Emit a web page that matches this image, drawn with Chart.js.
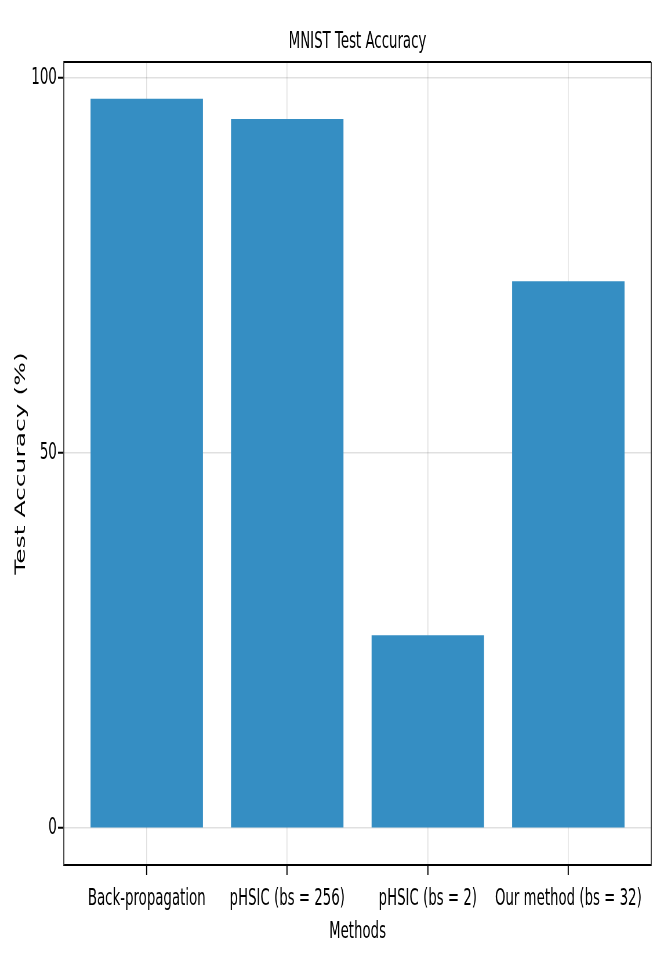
<!DOCTYPE html>
<html>
<head>
<meta charset="utf-8">
<script src="https://cdn.jsdelivr.net/npm/chart.js@4"></script>
<style>
  html, body { margin: 0; padding: 0; background: #fff; overflow: hidden; }
  #wrap { width: 664px; height: 969px; overflow: hidden; }
  #chart { transform-origin: 0 0; }
</style>
</head>
<body>
<div id="wrap"><canvas id="chart" width="1145" height="969"></canvas></div>
<script>
// chart values
const methods = ["Back-propagation", "pHSIC (bs = 256)", "pHSIC (bs = 2)", "Our method (bs = 32)"];
const accuracy = [97.2, 94.5, 25.7, 72.9];
const yTicks = [0, 50, 100];

// the original picture is squeezed horizontally, so draw wide and scale down
const canvasWidth = 1145;
const squeeze = 664 / canvasWidth;
const canvas = document.getElementById("chart");

// top and right frame lines of the plot box
const frame = {
    id: "frame",
    afterDraw(chart) {
        const { ctx, chartArea } = chart;
        ctx.save();
        ctx.strokeStyle = "#000";
        ctx.lineWidth = 2;
        ctx.beginPath();
        ctx.moveTo(chartArea.left, chartArea.top);
        ctx.lineTo(chartArea.right, chartArea.top);
        ctx.stroke();
        ctx.strokeStyle = "#444";
        ctx.lineWidth = 2;
        ctx.beginPath();
        ctx.moveTo(chartArea.right, chartArea.top);
        ctx.lineTo(chartArea.right, chartArea.bottom);
        ctx.stroke();
        ctx.restore();
    },
};

const labelFont = { family: "'DejaVu Sans'", size: 23 };

new Chart(canvas.getContext("2d"), {
    type: "bar",
    data: {
        datasets: [
            {
                data: accuracy.map((v, i) => ({ x: i, y: v })),
                backgroundColor: "#358ec3",
                borderWidth: 0,
                categoryPercentage: 0.8,
                barPercentage: 1.0,
            },
        ],
    },
    options: {
        responsive: false,
        animation: false,
        devicePixelRatio: 1,
        layout: { padding: { top: 0, right: 22, bottom: 0, left: 0 } },
        plugins: {
            legend: { display: false },
            tooltip: { enabled: false },
            title: {
                display: true,
                fullSize: false,
                text: "MNIST Test Accuracy",
                color: "#000",
                font: { family: "'DejaVu Sans'", size: 23, weight: "normal" },
                padding: { top: 28, bottom: 6.4 },
            },
        },
        scales: {
            x: {
                type: "linear",
                min: -0.59,
                max: 3.59,
                offset: false,
                z: 1,
                afterBuildTicks: (scale) => {
                    scale.ticks = methods.map((m, i) => ({ value: i }));
                },
                afterFit: (scale) => {
                    scale.height = 104;
                },
                ticks: {
                    callback: (v) => methods[v],
                    autoSkip: false,
                    maxRotation: 0,
                    color: "#000",
                    padding: 10,
                    font: labelFont,
                },
                grid: {
                    offset: false,
                    color: "rgba(0,0,0,0.12)",
                    lineWidth: 1.7,
                    tickColor: "#000",
                    tickLength: 10,
                    tickWidth: 2,
                },
                border: { color: "#000", width: 2 },
                title: {
                    display: true,
                    text: "Methods",
                    color: "#000",
                    font: labelFont,
                    padding: { top: 0, bottom: 23 },
                },
            },
            y: {
                min: -4.9,
                max: 102.1,
                z: 1,
                afterBuildTicks: (scale) => {
                    scale.ticks = yTicks.map((v) => ({ value: v }));
                },
                afterFit: (scale) => {
                    scale.width = 110;
                },
                ticks: {
                    color: "#000",
                    padding: 2,
                    font: labelFont,
                },
                grid: {
                    color: "rgba(0,0,0,0.12)",
                    lineWidth: 1.5,
                    tickColor: "#000",
                    tickLength: 10,
                    tickWidth: 2,
                },
                border: { color: "#444", width: 2 },
                title: {
                    display: true,
                    text: "Test Accuracy (%)",
                    color: "#000",
                    font: { family: "'DejaVu Sans'", size: 25 },
                    padding: { top: 21, bottom: 0 },
                },
            },
        },
    },
    plugins: [frame],
});

canvas.style.transform = "scaleX(" + squeeze + ")";
</script>
</body>
</html>
